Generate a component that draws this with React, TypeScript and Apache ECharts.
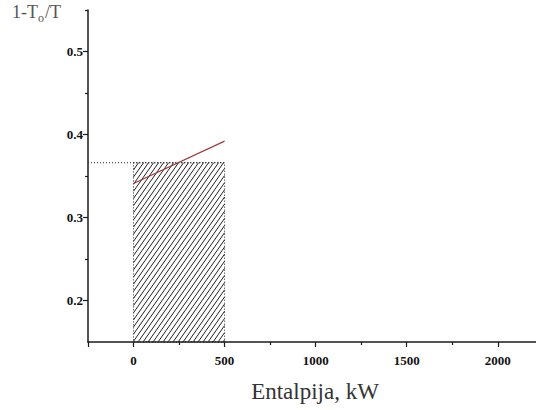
import React, { useEffect, useRef } from "react";
import * as echarts from "echarts";

// Axis ranges & ticks
const xMajorTicks = [-250, 0, 500, 1000, 1500, 2000];
const xMinorTicks = [250, 750, 1250, 1750];
const xLabels = [0, 500, 1000, 1500, 2000];
const yMajorTicks = [0.2, 0.3, 0.4, 0.5];
const yMinorTicks = [0.25, 0.35, 0.45, 0.55];

// Hatched area: [xStart, xEnd, yBottom, yTop]
const hatchArea = [0, 500, 0.15, 0.366];
// Dotted reference line
const dottedLine = [
  [-250, 0.366],
  [500, 0.366],
];
// Red line
const redLine = [
  [0, 0.341],
  [500, 0.392],
];

const SERIF = "Liberation Serif";

export default function App() {
  const ref = useRef<HTMLDivElement>(null);
  useEffect(() => {
    if (!ref.current) return;
    const chart = echarts.init(ref.current, undefined, { renderer: "svg" });
    const axisBase = {
      type: "value" as const,
      splitLine: { show: false },
    };
    const labelStyle = {
      fontFamily: SERIF,
      fontWeight: "bold" as const,
      fontSize: 13,
      color: "#111",
    };
    chart.setOption({
      animation: false,
      backgroundColor: "#fff",
      grid: { left: 88, right: 0, top: 10, bottom: 68, containLabel: false },
      xAxis: [
        {
          ...axisBase,
          min: -250,
          max: 2210,
          axisLine: { show: true, onZero: false, lineStyle: { color: "#1a1a1a", width: 1.5 } },
          axisTick: {
            show: true,
            customValues: xMajorTicks,
            length: 5,
            lineStyle: { color: "#1a1a1a", width: 1.2 },
          },
          axisLabel: {
            ...labelStyle,
            customValues: xLabels,
            formatter: (v: number) => String(v),
            margin: 12,
          },
        },
        {
          ...axisBase,
          min: -250,
          max: 2210,
          position: "bottom",
          axisLine: { show: false, onZero: false },
          axisTick: {
            show: true,
            customValues: xMinorTicks,
            length: 3,
            lineStyle: { color: "#1a1a1a", width: 1.2 },
          },
          axisLabel: { show: false },
        },
      ],
      yAxis: [
        {
          ...axisBase,
          min: 0.15,
          max: 0.55,
          axisLine: { show: true, onZero: false, lineStyle: { color: "#1a1a1a", width: 1.5 } },
          axisTick: {
            show: true,
            customValues: yMajorTicks,
            length: 5,
            lineStyle: { color: "#1a1a1a", width: 1.2 },
          },
          axisLabel: {
            ...labelStyle,
            customValues: yMajorTicks,
            formatter: (v: number) => v.toFixed(1),
            margin: 5,
          },
        },
        {
          ...axisBase,
          min: 0.15,
          max: 0.55,
          position: "left",
          axisLine: { show: false, onZero: false },
          axisTick: {
            show: true,
            customValues: yMinorTicks,
            length: 3,
            lineStyle: { color: "#1a1a1a", width: 1.2 },
          },
          axisLabel: { show: false },
        },
      ],
      series: [
        {
          type: "custom",
          data: [hatchArea],
          renderItem: (params: any, api: any) => {
            const x0 = api.value(0);
            const x1 = api.value(1);
            const y0 = api.value(2);
            const y1 = api.value(3);
            const pTL = api.coord([x0, y1]);
            const pBR = api.coord([x1, y0]);
            const L = pTL[0];
            const T = pTL[1];
            const R = pBR[0];
            const B = pBR[1];
            const m = 0.7;
            const s = 5;
            const children: any[] = [];
            for (let c = L + m * T; c <= R + m * B; c += s) {
              const ya = Math.max(T, (c - R) / m);
              const yb = Math.min(B, (c - L) / m);
              if (yb <= ya) continue;
              children.push({
                type: "line",
                shape: { x1: c - m * ya, y1: ya, x2: c - m * yb, y2: yb },
                style: { stroke: "#222", lineWidth: 1 },
              });
            }
            children.push({
              type: "rect",
              shape: { x: L, y: T, width: R - L, height: B - T },
              style: { fill: "none", stroke: "#222", lineWidth: 1, lineDash: [1, 2] },
            });
            return { type: "group", children };
          },
          z: 2,
        },
        {
          type: "line",
          data: dottedLine,
          symbol: "none",
          lineStyle: { color: "#222", width: 1, type: [1, 2] },
          z: 3,
        },
        {
          type: "line",
          data: redLine,
          symbol: "none",
          lineStyle: { color: "#a33a3a", width: 1.2 },
          z: 4,
        },
      ],
      graphic: [
        {
          type: "text",
          left: 12,
          top: 3,
          style: { text: "1-T", font: `18px ${SERIF}`, fill: "#555" },
        },
        {
          type: "text",
          left: 38,
          top: 12,
          style: { text: "o", font: `12px ${SERIF}`, fill: "#555" },
        },
        {
          type: "text",
          left: 45,
          top: 3,
          style: { text: "/T", font: `18px ${SERIF}`, fill: "#555" },
        },
        {
          type: "text",
          x: 315,
          y: 391,
          style: {
            text: "Entalpija, kW",
            font: `23px ${SERIF}`,
            fill: "#333",
            textAlign: "center",
            textVerticalAlign: "middle",
          },
        },
      ],
    });
    return () => chart.dispose();
  }, []);
  return (
    <div
      ref={ref}
      style={{ position: "fixed", left: 0, top: 0, width: 536, height: 410 }}
    />
  );
}
